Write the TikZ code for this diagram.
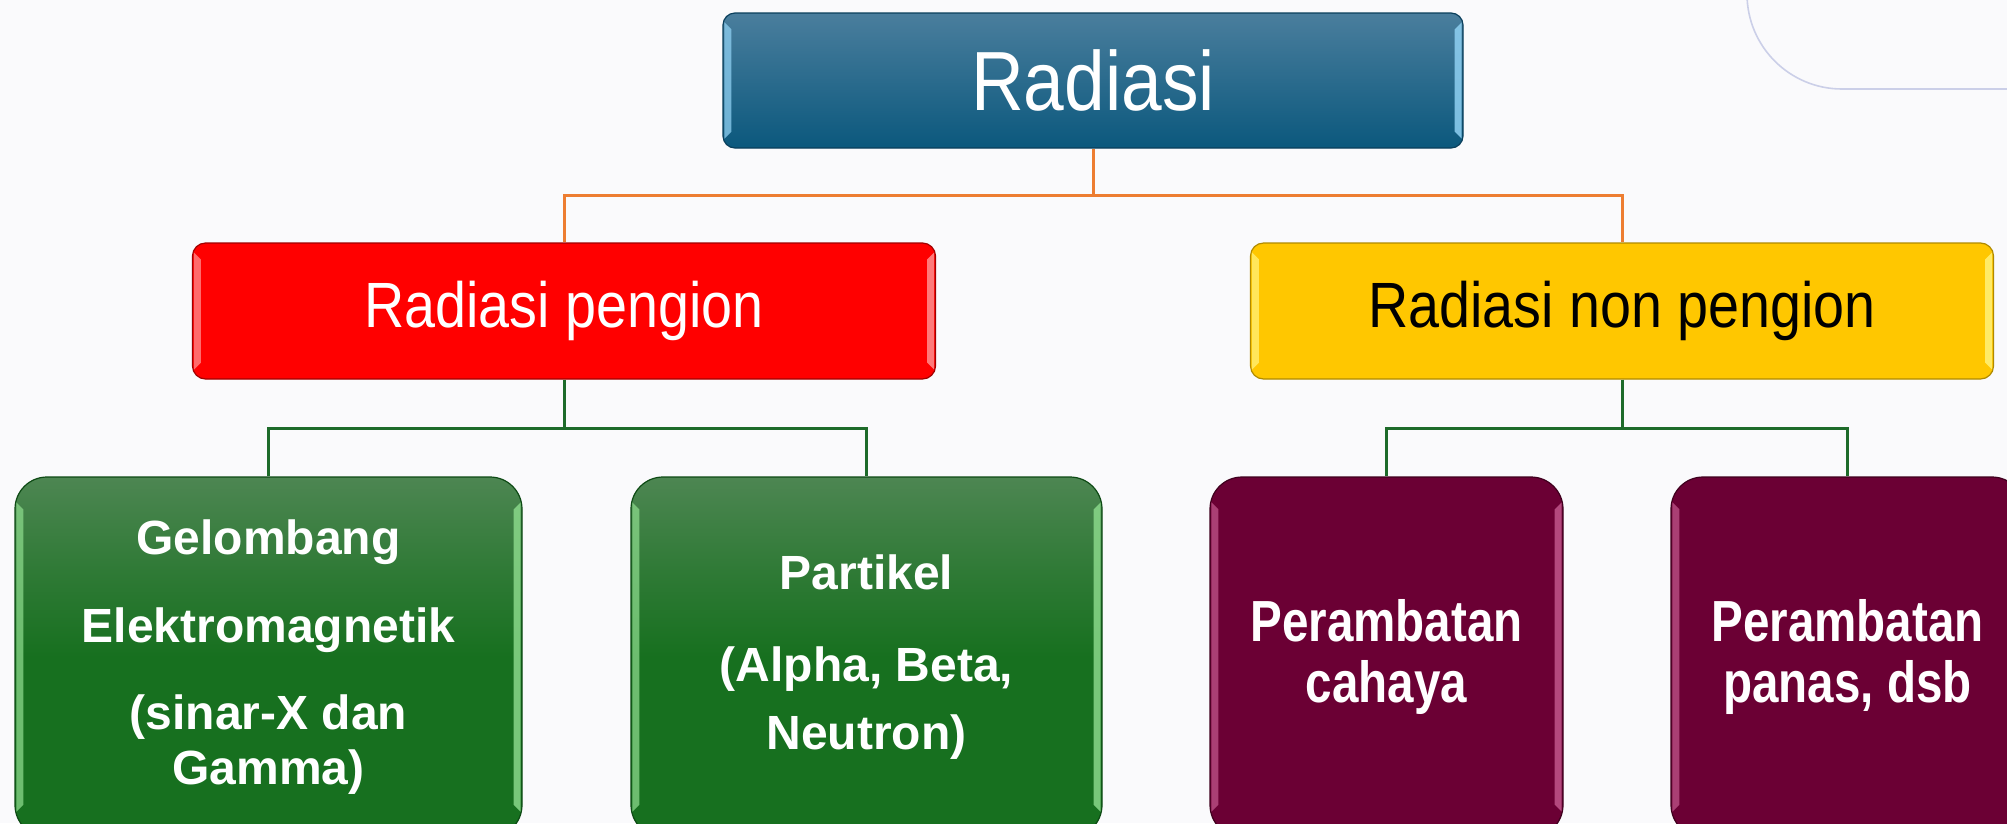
\documentclass[tikz,border=0pt]{standalone}
\usepackage{fontspec}
\setmainfont{Liberation Sans}
\newfontfamily\narrowfont[FakeStretch=0.87]{Liberation Sans}
\newfontfamily\narrowboldfont[FakeStretch=0.82]{Liberation Sans}
\usetikzlibrary{calc}
\definecolor{bg}{HTML}{FAFAFC}
\definecolor{lav}{HTML}{CBCFE8}
\definecolor{topA}{HTML}{4A7E9D}
\definecolor{topB}{HTML}{1C6A91}
\definecolor{topC}{HTML}{0B587D}
\definecolor{topedge}{HTML}{0A3F5C}
\definecolor{topbev}{HTML}{8FD0F2}
\definecolor{redfill}{HTML}{FF0000}
\definecolor{rededge}{HTML}{A00000}
\definecolor{redbev}{HTML}{FF9090}
\definecolor{yelfill}{HTML}{FFC700}
\definecolor{yeledge}{HTML}{B08A00}
\definecolor{yelbev}{HTML}{FFF27A}
\definecolor{grnA}{HTML}{4D8652}
\definecolor{grnB}{HTML}{17701F}
\definecolor{grnedge}{HTML}{0D4A14}
\definecolor{grnbev}{HTML}{8AD88A}
\definecolor{marfill}{HTML}{6B0034}
\definecolor{maredge}{HTML}{3F001E}
\definecolor{marbev}{HTML}{C0558A}
\definecolor{orangeline}{HTML}{ED7D31}
\definecolor{greenline}{HTML}{1E6B2A}
\pgfdeclareverticalshading{grnshade}{100bp}{color(0bp)=(grnB); color(50bp)=(grnB); color(62bp)=(grnB!55!grnA); color(75bp)=(grnA); color(100bp)=(grnA)}
\newcommand{\bevels}[4]{%
  \fill[#2,opacity=0.75] ($(#1.north west)+(2,#4)$) -- ($(#1.north west)+(2+#3,#4+#3)$) --
     ($(#1.south west)+(2+#3,-#4-#3)$) -- ($(#1.south west)+(2,-#4)$) -- cycle;
  \fill[#2,opacity=0.85] ($(#1.north east)+(-2,#4)$) -- ($(#1.north east)+(-2-#3,#4+#3)$) --
     ($(#1.south east)+(-2-#3,-#4-#3)$) -- ($(#1.south east)+(-2,-#4)$) -- cycle;}
\tikzset{
  basebox/.style={line width=1.2pt, inner sep=0pt, align=center},
  topbox/.style={basebox, draw=topedge, rounded corners=12pt, top color=topA, middle color=topB, bottom color=topC,
     minimum width=740pt, minimum height=135pt, text=white, font=\narrowfont\fontsize{84}{90}\selectfont},
  midbox/.style={basebox, rounded corners=13pt, minimum width=743pt, minimum height=136pt,
     font=\narrowfont\fontsize{64}{70}\selectfont},
  redbox/.style={midbox, draw=rededge, fill=redfill, text=white},
  yelbox/.style={midbox, draw=yeledge, fill=yelfill, text=black},
  grnbox/.style={basebox, draw=grnedge, rounded corners=32pt, shading=grnshade, shading angle=0,
     minimum height=360pt, text=white, font=\bfseries\fontsize{48}{55}\selectfont},
  marbox/.style={basebox, draw=maredge, fill=marfill, rounded corners=32pt, minimum width=353pt,
     minimum height=360pt, text=white, font=\narrowboldfont\bfseries\fontsize{58}{61}\selectfont},
  oline/.style={draw=orangeline, line width=3pt},
  gline/.style={draw=greenline, line width=3pt}
}
\begin{document}
\begin{tikzpicture}[x=1pt,y=-1pt]
\useasboundingbox (0,0) rectangle (2007,823);
\fill[bg] (0,0) rectangle (2007,823);
\draw[lav, line width=1.6pt, rounded corners=95pt] (1747,-120) -- (1747,89) -- (2120,89);

% nodes
\node[topbox] (top) at (1093,80.5) {Radiasi};
\node[redbox] (ion) at (564,311) {Radiasi pengion};
\node[yelbox] (non) at (1622,311) {Radiasi non pengion};
\node[grnbox, minimum width=507pt] (gel) at (268.5,657) {Gelombang\\[33pt]Elektromagnetik\\[32pt](sinar-X dan\\Gamma)};
\node[grnbox, minimum width=471pt] (par) at (866.5,657) {Partikel\\[37pt](Alpha, Beta,\\[13pt]Neutron)};
\node[marbox] (cah) at (1386.5,657) {Perambatan\\cahaya};
\node[marbox] (pan) at (1847.5,657) {Perambatan\\panas, dsb};

% connectors
\coordinate (j1) at (1093,195);
\coordinate (j2) at (564,428);
\coordinate (j3) at (1622,428);
\draw[oline] (top.south) -- (j1);
\draw[oline] (ion.north) |- (j1) -| (non.north);
\draw[gline] (ion.south) -- (j2);
\draw[gline] (gel.north) |- (j2) -| (par.north);
\draw[gline] (non.south) -- (j3);
\draw[gline] (cah.north) |- (j3) -| (pan.north);

% bevel highlights
\bevels{top}{topbev}{7}{10}
\bevels{ion}{redbev}{7}{10}
\bevels{non}{yelbev}{7}{10}
\bevels{gel}{grnbev}{7}{26}
\bevels{par}{grnbev}{7}{26}
\bevels{cah}{marbev}{7}{26}
\bevels{pan}{marbev}{7}{26}
\end{tikzpicture}
\end{document}
